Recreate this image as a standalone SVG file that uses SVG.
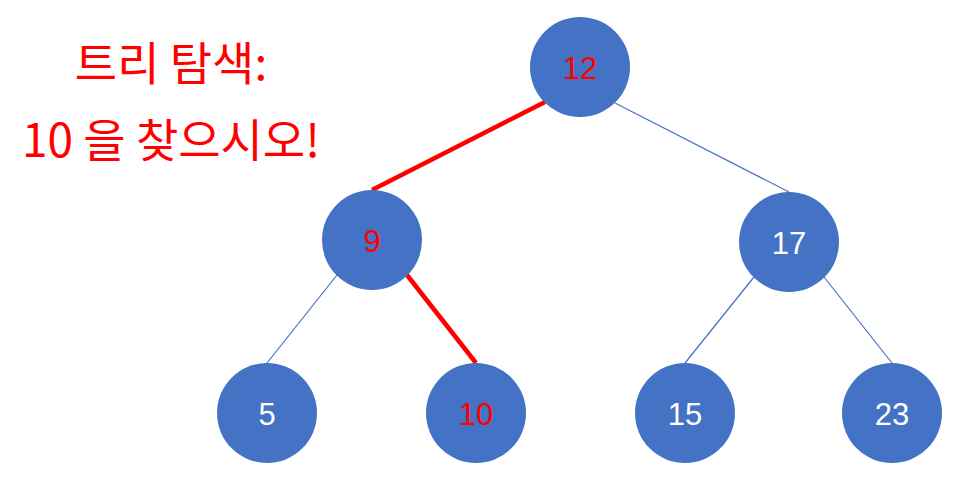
<svg xmlns="http://www.w3.org/2000/svg" width="971" height="500" viewBox="0 0 971 500">
  <style>
    .node { fill: #4472C4; }
    .edge { stroke: #4472C4; stroke-width: 1.2; fill: none; }
    .path { stroke: #FF0000; stroke-width: 4.5; fill: none; }
    .label { font-family: "Liberation Sans", "Noto Sans", sans-serif; font-size: 31px; text-anchor: middle; }
    .white { fill: #FFFFFF; }
    .red { fill: #FF0000; }
    .title { font-family: "Noto Sans CJK KR", "Noto Sans", sans-serif; font-size: 46px; fill: #FF0000; text-anchor: middle; }
  </style>
  <rect width="971" height="500" fill="#FFFFFF"/>

  <!-- heading -->
  <text class="title" x="171" y="80">트리 탐색:</text>
  <text class="title" x="171" y="157">10 을 찾으시오!</text>

  <!-- connectors -->
  <g id="connectors">
    <line class="edge" x1="615" y1="103" x2="789" y2="192"/>
    <line class="edge" x1="337" y1="275" x2="267" y2="363"/>
    <line class="edge" x1="754" y1="277" x2="685" y2="363"/>
    <line class="edge" x1="824" y1="277" x2="892" y2="363"/>
    <line class="path" x1="545" y1="102" x2="372" y2="190"/>
    <line class="path" x1="407" y1="275" x2="476" y2="363"/>
  </g>

  <!-- nodes -->
  <g id="n12">
    <circle class="node" cx="580" cy="67" r="50"/>
    <text class="label red" x="580" y="79">12</text>
  </g>
  <g id="n9">
    <circle class="node" cx="372" cy="240" r="50"/>
    <text class="label red" x="372" y="252">9</text>
  </g>
  <g id="n17">
    <circle class="node" cx="789" cy="242" r="50"/>
    <text class="label white" x="789" y="254">17</text>
  </g>
  <g id="n5">
    <circle class="node" cx="267" cy="413" r="50"/>
    <text class="label white" x="267" y="425">5</text>
  </g>
  <g id="n10">
    <circle class="node" cx="476" cy="413" r="50"/>
    <text class="label red" x="476" y="425">10</text>
  </g>
  <g id="n15">
    <circle class="node" cx="685" cy="413" r="50"/>
    <text class="label white" x="685" y="425">15</text>
  </g>
  <g id="n23">
    <circle class="node" cx="892" cy="413" r="50"/>
    <text class="label white" x="892" y="425">23</text>
  </g>
</svg>
